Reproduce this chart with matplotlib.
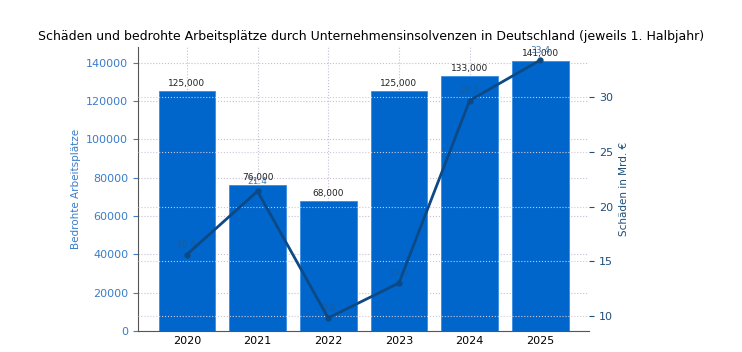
import matplotlib.pyplot as plt

jahre = ["2020", "2021", "2022", "2023", "2024", "2025"]
arbeitsplaetze = [125000, 76000, 68000, 125000, 133000, 141000]
schaeden = [15.6, 21.4, 9.8, 13.0, 29.7, 33.4]

bar_col = "#0066cc"
line_col = "#0d4a85"

fig, ax1 = plt.subplots(figsize=(7.42, 3.52), dpi=100)
fig.subplots_adjust(left=0.186, right=0.794, top=0.866, bottom=0.06)

x = list(range(len(jahre)))
bars = ax1.bar(x, arbeitsplaetze, width=0.8, color=bar_col, edgecolor="#3a8ee0", linewidth=0.6, zorder=2)
for xi, v in zip(x, arbeitsplaetze):
    ax1.text(xi, v + 1500, f"{v:,}", ha="center", va="bottom", fontsize=6.5, color="#222222", zorder=5)

ax1.set_xticks(x)
ax1.set_xticklabels(jahre, fontsize=8)
ax1.set_ylabel("Bedrohte Arbeitsplätze", color="#3a7dc9", fontsize=7.5)
ax1.tick_params(axis="y", colors="#3a7dc9", labelsize=8)
ax1.tick_params(axis="x", labelsize=8, length=0)
ax1.grid(True, linestyle=":", color="#c8bcd6", linewidth=0.8, zorder=0)
ax1.set_axisbelow(True)
for s in ["top", "right"]:
    ax1.spines[s].set_visible(False)
ax1.spines["left"].set_color("#555555")
ax1.spines["bottom"].set_color("#555555")

ax2 = ax1.twinx()
ax2.plot(x, schaeden, color=line_col, linewidth=2, marker="o", markersize=3.5, zorder=4)
for xi, v in zip(x, schaeden):
    ax2.text(xi, v + 0.5, f"{v}", ha="center", va="bottom", fontsize=6.5, color="#1c5a96", alpha=0.8)
ax2.set_ylabel("Schäden in Mrd. €", color="#1f4e79", fontsize=7.5)
ax2.tick_params(axis="y", colors="#1f4e79", labelsize=8)
ax2.grid(True, linestyle=":", color="#d0c8dc", linewidth=0.8)
for s in ["top", "right", "left", "bottom"]:
    ax2.spines[s].set_visible(False)

fig.suptitle("Schäden und bedrohte Arbeitsplätze durch Unternehmensinsolvenzen in Deutschland (jeweils 1. Halbjahr)",
             fontsize=9, x=0.5, y=0.915)

fig.savefig("out.png", dpi=100)
